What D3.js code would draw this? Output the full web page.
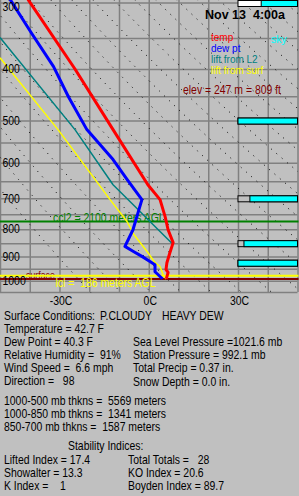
<!DOCTYPE html>
<html><head><meta charset="utf-8">
<script src="https://cdn.jsdelivr.net/npm/d3@7/dist/d3.min.js"></script>
<style>
html,body{margin:0;padding:0;background:#c0c0c0;overflow:hidden}
svg{display:block}
text{font-family:"Liberation Sans",Arial,sans-serif;white-space:pre}
</style></head><body>
<svg id="c" width="299" height="496"></svg>
<script>
// ---------- data ----------
const isobars = [300,350,400,450,500,550,600,650,700,750,800,850,900,950,1000,1050];
const pressureLabels = [300,400,500,600,700,800,900,1000];
const isotherms = [-50,-40,-30,-20,-10,0,10,20,30,40,50];
const tempLabels = [-30,0,30];
const adiabatThetas = [250,260,270,280,290,300,310,320,330,340,350,360,370,380,390,400,410,420,430,440,450];

const tempP = [296,400,520,660,704,758,802,848,886,925,953,965,992.1];
const tempC = [-40.6,-24.8,-12.0,-0.3,3.8,5.5,6.5,8.2,7.1,6.1,5.8,6.5,5.9];

const dewP = [296,342,396,451,520,592,645,704,802,862,880,900,920,933,962,982,992.1];
const dewC = [-46.6,-39.5,-32.0,-27.0,-20.8,-12.0,-7.3,-2.3,-5.3,-8.0,-5.3,-2.3,0.4,2.1,2.1,3.8,4.6];

const liftL2P = [349,520,660,735,774,855];
const liftL2C = [-50,-24.8,-12.0,-3.6,0.4,8.2];

const liftSfcP = [381,520,704,774,819,886,925,941,979,992.1];
const liftSfcC = [-50,-30.5,-13.0,-7.3,-5.0,-0.25,2.1,3.8,5.0,5.9];

const skyTotal = 0.61;
const skyLayerP = [500,700,850,925];
const skyLayerCover = [1.0,0.8,0.9,1.0];

const cclP = 774, lclP = 979, surfaceP = 992.1;
const cclText = "ccl2 = 2100 meters AGL";
const lclText = "lcl =  186 meters AGL";
const surfaceText = "surface";
const elevText = "elev = 247 m = 809 ft";
const titleText = "Nov 13  4:00a";
const legendNames = ["temp","dew pt","lift from L2","lift from surf"];
const conditionParts = ["Surface Conditions:  ","P.CLOUDY  ","HEAVY DEW"];
const leftLines = ["Temperature = 42.7 F","Dew Point = 40.3 F","Relative Humidity =  91%","Wind Speed =  6.6 mph","Direction =   98"];
const thicknessLines = ["1000-500 mb thkns =  5569 meters","1000-850 mb thkns =  1341 meters","850-700 mb thkns =  1587 meters"];
const rightLines = ["Sea Level Pressure =1021.6 mb","Station Pressure = 992.1 mb","Total Precip = 0.37 in.","Snow Depth = 0.0 in."];
const stabilityTitle = "Stability Indices:";
const stabilityLeft = ["Lifted Index = 17.4","Showalter = 13.3","K Index =    1"];
const stabilityRight = ["Total Totals =   28","KO Index = 20.6","Boyden Index = 89.7"];

// ---------- layout ----------
const plotW = 297.5, plotTop = 2.5, plotBot = 292;
const x = d3.scaleLinear().domain([-50,50]).range([0,plotW]);
const y = d3.scaleLog().domain([300,1050]).range([plotTop,plotBot]);
const SX = 0.87;
const svg = d3.select('#c');

svg.append('defs').append('clipPath').attr('id','plot')
  .append('rect').attr('x',0).attr('y',0).attr('width',plotW+0.5).attr('height',plotBot+0.5);

function txt(g, tx, ty, s, color, anchor, size, weight, sx){
  return g.append('text')
    .attr('transform',`translate(${tx},${ty}) scale(${sx===undefined?SX:sx},1)`)
    .attr('text-anchor',anchor||'start')
    .attr('font-size',(size||12)+'px')
    .attr('font-weight',weight||'normal')
    .attr('fill',color||'#000')
    .text(s);
}

// grid
const gridG = svg.append('g');
gridG.append('g').call(d3.axisLeft(y).tickValues(isobars).tickSize(-plotW).tickFormat(''));
gridG.append('g').attr('transform',`translate(0,${plotBot})`)
  .call(d3.axisBottom(x).tickValues(isotherms).tickSize(-plotBot).tickFormat(''));
gridG.selectAll('.domain').remove();
gridG.selectAll('line').attr('stroke','#808080').attr('stroke-width',1.5);

// dry adiabats
const adG = svg.append('g').attr('clip-path','url(#plot)');
const adP = d3.range(290,1061,5);
const adLine = d3.line().x(d=>x(d[1])).y(d=>y(d[0]));
adiabatThetas.forEach(th=>{
  adG.append('path')
    .attr('d',adLine(adP.map(p=>[p, th*Math.pow(p/1000,0.286)-273.15])))
    .attr('fill','none').attr('stroke','#000').attr('stroke-width',1)
    .attr('stroke-dasharray','1 6');
});

// sky bars
const skyG = svg.append('g');
const barX0 = x(30), barW = plotW - x(30);
function skyBar(by, cover, bg){
  skyG.append('rect').attr('x',barX0).attr('y',by).attr('width',barW).attr('height',6)
    .attr('fill',bg).attr('stroke','#000').attr('stroke-width',1);
  skyG.append('rect').attr('x',barX0+barW*(1-cover)).attr('y',by).attr('width',barW*cover).attr('height',6)
    .attr('fill','#00ffff').attr('stroke','#000').attr('stroke-width',1);
}
skyBar(0.5, skyTotal, '#ffffff');
skyLayerP.forEach((p,i)=> skyBar(y(p)-2.5, skyLayerCover[i], '#c0c0c0'));

// level lines and their labels
const lvG = svg.append('g');
function hline(p,color,w){
  lvG.append('line').attr('x1',0).attr('x2',plotW+1).attr('y1',y(p)).attr('y2',y(p))
    .attr('stroke',color).attr('stroke-width',w);
}
txt(lvG, 53, y(cclP)+0.5, cclText, '#008000');
txt(lvG, 26, y(surfaceP)-0.3, surfaceText, '#800000', 'start', 11, 'normal', 0.8);
hline(cclP,'#008000',2);
hline(surfaceP,'#800000',2);
hline(lclP,'#ffff00',2);
txt(lvG, 55.5, y(lclP)+11.3, lclText, '#ffff00');

// curves
const curveG = svg.append('g').attr('clip-path','url(#plot)');
const line = d3.line().x(d=>x(d[1])).y(d=>y(d[0]));
function curve(P,C,color,w){
  curveG.append('path').attr('d',line(P.map((p,i)=>[p,C[i]])))
    .attr('fill','none').attr('stroke',color).attr('stroke-width',w)
    .attr('stroke-linejoin','round');
}
curve(liftSfcP,liftSfcC,'#ffff00',1.5);
curve(liftL2P,liftL2C,'#008080',1.5);
curve(tempP,tempC,'#ff0000',3);
curve(dewP,dewC,'#0000ff',3);

// axis labels
const labG = svg.append('g');
pressureLabels.forEach(p=> txt(labG, 2.5, Math.max(y(p)+4.3, 10.6), String(p), '#000'));
tempLabels.forEach(t=> txt(labG, x(t)+1.5, 305.3, t+'C', '#000', 'middle'));

// title, legend, elev
txt(labG, 205, 19.3, titleText, '#000', 'start', 12.5, 'bold', 1);
const legColors = ['#ff0000','#0000ff','#008080','#ffff00'];
legendNames.forEach((n,i)=> txt(labG, 211, 40.6 + i*11.2, n, legColors[i], 'start', 10, 'normal', 1));
txt(labG, 271, 43, 'sky', '#00ffff', 'start', 10, 'normal', 1.05);
txt(labG, 183, 93.6, elevText, '#800000');

// bottom text
const tG = svg.append('g');
const cond = tG.append('text')
  .attr('transform',`translate(4,319.5) scale(${SX},1)`)
  .attr('font-size','12px').attr('fill','#000');
const condX = [0, (100-4)/SX, (162-4)/SX];
conditionParts.forEach((s,i)=> cond.append('tspan').attr('x',condX[i]).text(s));
leftLines.forEach((s,i)=> txt(tG, 4, 333 + i*13.1, s, '#000'));
thicknessLines.forEach((s,i)=> txt(tG, 4, 404.5 + i*13, s, '#000'));
rightLines.forEach((s,i)=> txt(tG, 133, 346.2 + i*13.1, s, '#000'));
txt(tG, 68, 450, stabilityTitle, '#000');
stabilityLeft.forEach((s,i)=> txt(tG, 4, 463.5 + i*13.2, s, '#000'));
stabilityRight.forEach((s,i)=> txt(tG, 128, 463.5 + i*13.2, s, '#000'));
</script>
</body></html>
